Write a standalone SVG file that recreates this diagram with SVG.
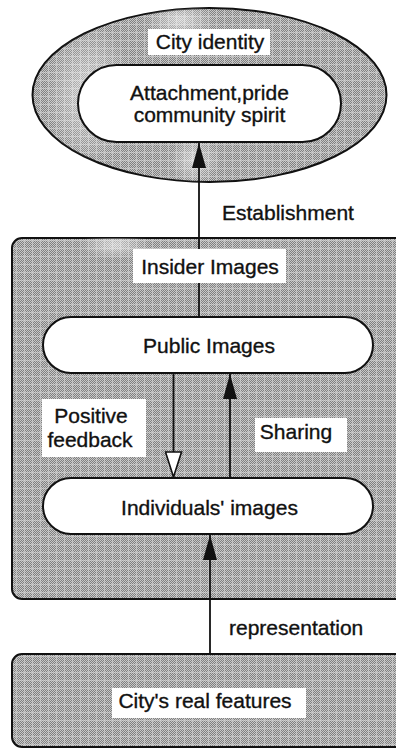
<svg xmlns="http://www.w3.org/2000/svg" width="396" height="748" viewBox="0 0 396 748">
  <style>
    text { font-family: "Liberation Sans", Arial, sans-serif; font-size: 21px; fill: #111; stroke: #111; stroke-width: 0.35; }
    .mid { text-anchor: middle; }
    .region { fill: url(#halftone); stroke: #111; stroke-width: 2; }
    .pill { fill: #fff; stroke: #111; stroke-width: 2; }
    .label { fill: #fff; stroke: none; }
    .link { stroke: #111; stroke-width: 1.8; fill: none; }
    .wash { fill: url(#wash); }
  </style>
  <defs>
    <!-- dithered grey screen used for the shaded regions -->
    <pattern id="halftone" width="8" height="8" patternUnits="userSpaceOnUse">
      <rect width="8" height="8" fill="#808080"/>
      <path d="M0 0h1v1h-1zM2 0h1v1h-1zM4 0h1v1h-1zM6 0h1v1h-1zM1 1h1v1h-1zM3 1h1v1h-1zM5 1h1v1h-1zM7 1h1v1h-1zM0 2h1v1h-1zM2 2h1v1h-1zM4 2h1v1h-1zM6 2h1v1h-1zM1 3h1v1h-1zM3 3h1v1h-1zM5 3h1v1h-1zM7 3h1v1h-1zM0 4h1v1h-1zM2 4h1v1h-1zM4 4h1v1h-1zM6 4h1v1h-1zM1 5h1v1h-1zM3 5h1v1h-1zM5 5h1v1h-1zM7 5h1v1h-1zM0 6h1v1h-1zM2 6h1v1h-1zM4 6h1v1h-1zM6 6h1v1h-1zM1 7h1v1h-1zM3 7h1v1h-1zM5 7h1v1h-1zM7 7h1v1h-1z" fill="#c8c8c8"/>
      <rect x="0" y="0" width="1" height="8" fill="#d6d6d6" opacity="0.6"/>
      <rect x="0" y="0" width="8" height="1" fill="#d6d6d6" opacity="0.6"/>
    </pattern>
    <!-- pale worn patches on the screen -->
    <radialGradient id="wash">
      <stop offset="0" stop-color="#fff" stop-opacity="0.55"/>
      <stop offset="1" stop-color="#fff" stop-opacity="0"/>
    </radialGradient>
    <clipPath id="ellipseClip">
      <ellipse cx="209.5" cy="95" rx="177" ry="87"/>
    </clipPath>
    <clipPath id="boxClip">
      <rect x="12" y="238" width="400" height="361" rx="10"/>
    </clipPath>
    <marker id="headFilled" viewBox="0 0 25 14" refX="25" refY="7" markerWidth="25" markerHeight="14" markerUnits="userSpaceOnUse" orient="auto">
      <path d="M0 0L25 7L0 14Z" fill="#111"/>
    </marker>
    <marker id="headHollow" viewBox="-1 -1 27 18" refX="25" refY="8" markerWidth="27" markerHeight="18" markerUnits="userSpaceOnUse" orient="auto">
      <path d="M0 0L25 8L0 16Z" fill="#fff" stroke="#111" stroke-width="1.6"/>
    </marker>
  </defs>

  <!-- City identity: shaded ellipse with the core pill -->
  <g id="city-identity">
    <ellipse class="region" cx="209.5" cy="95" rx="177" ry="87"/>
    <g clip-path="url(#ellipseClip)">
      <ellipse class="wash" cx="90" cy="95" rx="45" ry="70"/>
      <ellipse class="wash" cx="180" cy="20" rx="35" ry="20"/>
      <ellipse class="wash" cx="195" cy="160" rx="25" ry="25"/>
    </g>
    <rect class="label" x="148" y="29" width="122" height="26"/>
    <text class="mid" x="210" y="49">City identity</text>
  </g>

  <g id="attachment">
    <rect class="pill" x="78" y="65" width="263" height="77" rx="38.5"/>
    <text class="mid" x="209.5" y="100">Attachment,pride</text>
    <text class="mid" x="209.5" y="122">community spirit</text>
  </g>

  <!-- Insider images region -->
  <g id="insider-images">
    <rect class="region" x="12" y="238" width="400" height="361" rx="10"/>
    <g clip-path="url(#boxClip)">
      <ellipse class="wash" cx="115" cy="245" rx="35" ry="14"/>
    </g>
  </g>

  <!-- City's real features region -->
  <g id="real-features">
    <rect class="region" x="12" y="654" width="400" height="93" rx="10"/>
    <rect class="label" x="112" y="688" width="194" height="30"/>
    <text class="mid" x="205" y="708">City's real features</text>
  </g>

  <g id="public-images">
    <rect class="pill" x="43" y="317" width="330" height="56" rx="28"/>
    <text class="mid" x="209" y="353">Public Images</text>
  </g>

  <g id="individual-images">
    <rect class="pill" x="43" y="478" width="330" height="56" rx="28"/>
    <text class="mid" x="209.5" y="515">Individuals' images</text>
  </g>

  <!-- connectors -->
  <g id="connectors">
    <line class="link" x1="199" y1="317" x2="199" y2="143" marker-end="url(#headFilled)"/>
    <line class="link" x1="173.5" y1="373" x2="173.5" y2="477" marker-end="url(#headHollow)"/>
    <line class="link" x1="230" y1="478" x2="230" y2="374" marker-end="url(#headFilled)"/>
    <line class="link" x1="210" y1="654" x2="210" y2="535" marker-end="url(#headFilled)"/>
  </g>

  <!-- connector and region labels -->
  <g id="label-establishment">
    <text x="222" y="220">Establishment</text>
  </g>
  <g id="label-insider">
    <rect class="label" x="133" y="249" width="153" height="34"/>
    <text class="mid" x="210" y="274">Insider Images</text>
  </g>
  <g id="label-feedback">
    <rect class="label" x="42" y="399" width="104" height="58"/>
    <text class="mid" x="91" y="423">Positive</text>
    <text class="mid" x="90" y="447">feedback</text>
  </g>
  <g id="label-sharing">
    <rect class="label" x="255" y="418" width="92" height="34"/>
    <text class="mid" x="296" y="439">Sharing</text>
  </g>
  <g id="label-representation">
    <text x="229" y="635">representation</text>
  </g>
</svg>
